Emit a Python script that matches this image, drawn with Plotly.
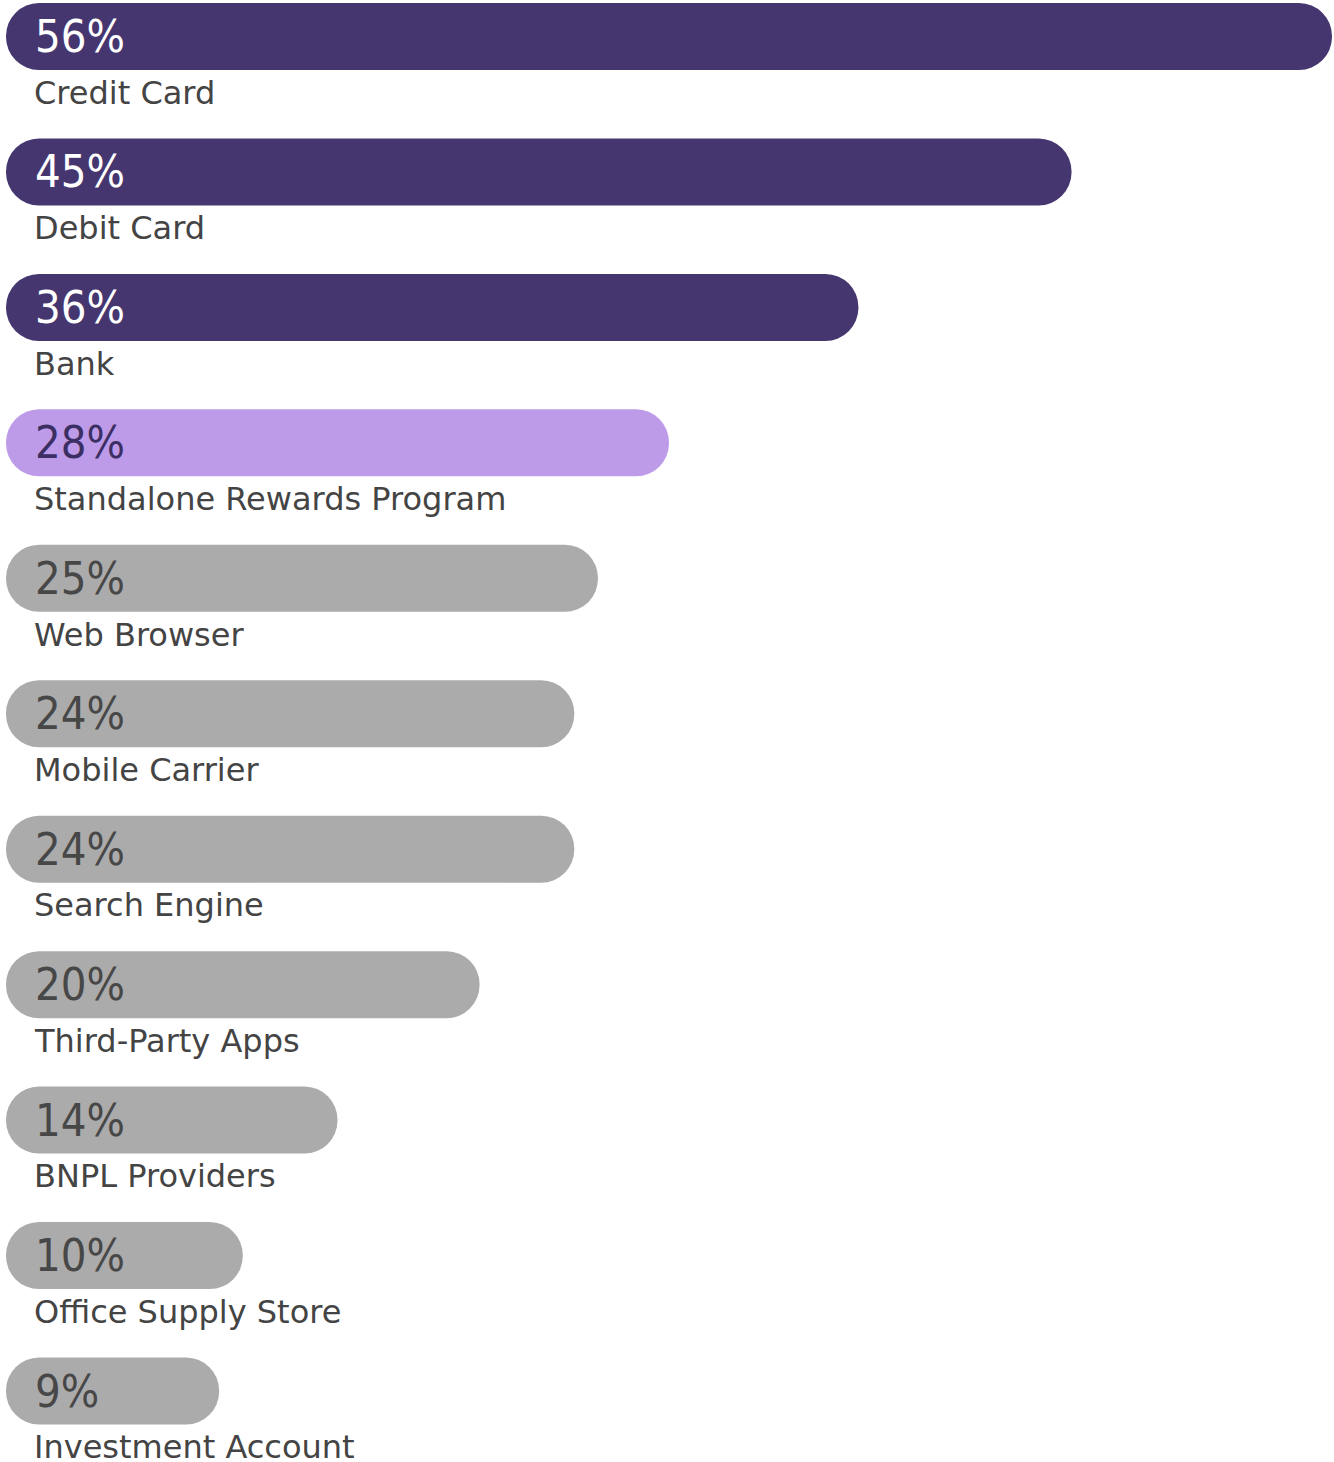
import plotly.graph_objects as go

# Share of respondents by provider type
categories = [
    "Credit Card", "Debit Card", "Bank", "Standalone Rewards Program",
    "Web Browser", "Mobile Carrier", "Search Engine", "Third-Party Apps",
    "BNPL Providers", "Office Supply Store", "Investment Account",
]
values = [56, 45, 36, 28, 25, 24, 24, 20, 14, 10, 9]
tiers = ["top", "top", "top", "mid", "low", "low", "low", "low", "low", "low", "low"]

BAR_COLORS = {"top": "#46366f", "mid": "#bd9be9", "low": "#ababab"}
PCT_COLORS = {"top": "#ffffff", "mid": "#3b2e62", "low": "#474747"}
LABEL_COLOR = "#444444"

W, H = 1334, 1462
n = len(values)
positions = list(range(n))
colors = [BAR_COLORS[t] for t in tiers]

# An explicit base makes plotly round both ends of each bar (pill shape).
fig = go.Figure(go.Bar(
    x=values, y=positions, base=[0] * n,
    orientation="h", width=0.495, hoverinfo="skip",
    marker=dict(color=colors, cornerradius=34, line=dict(width=0)),
))

annotations = []
for i, (cat, v, t) in enumerate(zip(categories, values, tiers)):
    annotations.append(dict(
        x=0, y=i, xref="x", yref="y", text=f"{v}%", showarrow=False,
        xanchor="left", yanchor="middle", xshift=27, yshift=0,
        font=dict(family="DejaVu Sans Condensed", size=45, color=PCT_COLORS[t]),
    ))
    annotations.append(dict(
        x=0, y=i + 0.415, xref="x", yref="y", text=cat, showarrow=False,
        xanchor="left", yanchor="middle", xshift=26,
        font=dict(family="DejaVu Sans", size=32, color=LABEL_COLOR),
    ))

# pixel geometry: bar base at 6px, 56% ends at 1332px; rows every ~135.45px
px_per_unit = 1326 / 56
row = 135.45
first = 36.5
fig.update_layout(
    width=W, height=H,
    margin=dict(l=0, r=0, t=0, b=0),
    paper_bgcolor="white", plot_bgcolor="white",
    showlegend=False,
    annotations=annotations,
    xaxis=dict(range=[-6 / px_per_unit, 56 + 2 / px_per_unit], visible=False, fixedrange=True),
    yaxis=dict(range=[(H - first) / row, -first / row], visible=False, fixedrange=True),
)

fig.write_html("out.html")
